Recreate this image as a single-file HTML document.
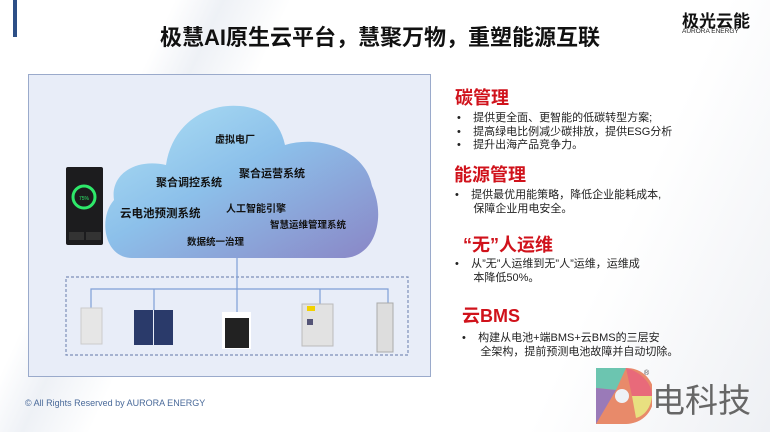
<!DOCTYPE html>
<html><head><meta charset="utf-8"><style>
*{margin:0;padding:0;box-sizing:border-box}
body{width:770px;height:432px;overflow:hidden;background:#fff;position:relative;font-family:"Liberation Sans","Noto Sans CJK SC",sans-serif}
.a{position:absolute;white-space:nowrap}
.h{color:#d0121b;font-weight:bold;font-size:18px}
.t{font-size:11px;color:#222;line-height:13.5px}
.c{font-size:11px;font-weight:bold;color:#111}
</style></head><body>
<div class="a" style="left:0;top:0;width:770px;height:432px;background:linear-gradient(115deg,#fff 18%,#eef1f6 23%,#fff 30%,#fff 75%,#eef0f4 100%)"></div>
<div class="a" style="left:13px;top:0;width:4px;height:37px;background:#2d4f86"></div>
<div class="a" style="left:0;top:20px;width:770px;text-align:center;font-size:22px;font-weight:bold;color:#111;padding-right:10px">极慧AI原生云平台，慧聚万物，重塑能源互联</div>
<div class="a" style="left:682px;top:7px;font-size:17px;font-weight:bold;color:#111">极光云能</div>
<div class="a" style="left:682px;top:28px;font-size:6.5px;color:#222">AURORA ENERGY</div>

<div class="a" style="left:28px;top:74px;width:403px;height:303px;background:#e8edf8;border:1.5px solid #9aaacb"></div>
<svg class="a" style="left:0;top:0" width="770" height="432">
<defs><linearGradient id="g" x1="0" y1="0" x2="1" y2="1"><stop offset="0" stop-color="#b0e2f5"/><stop offset="0.45" stop-color="#8cc0ea"/><stop offset="1" stop-color="#8a86c6"/></linearGradient></defs>
<path d="M132,258 C104,258 98,218 114,200 C110,174 136,158 166,165 C172,124 206,103 240,106 C265,108 280,122 285,145 C322,134 366,152 372,186 C386,216 376,256 345,258 Z" fill="url(#g)"/>
<rect x="66" y="277" width="342" height="78" fill="none" stroke="#7d90b8" stroke-width="1.2" stroke-dasharray="3,2"/>
<g stroke="#7f9fd6" stroke-width="1.2" fill="none">
<path d="M237,258 V312 M91,308 V289 H388 V303 M154,289 V310 M320,289 V304"/></g>
<rect x="81" y="308" width="21" height="36" fill="#e6e6e6" stroke="#ccc"/>
<rect x="134" y="310" width="19" height="35" fill="#2a3a6a"/><rect x="154" y="310" width="19" height="35" fill="#2a3a6a"/>
<rect x="222" y="312" width="29" height="37" fill="#fff"/><rect x="225" y="318" width="24" height="30" fill="#222"/>
<rect x="302" y="304" width="31" height="42" fill="#e2e2e2" stroke="#bbb"/><rect x="307" y="306" width="8" height="5" fill="#f2d100"/><rect x="307" y="319" width="6" height="6" fill="#557"/>
<rect x="377" y="303" width="16" height="49" fill="#ddd" stroke="#aaa"/>
<rect x="66" y="167" width="37" height="78" rx="2" fill="#1c1c1e"/>
<circle cx="84" cy="197" r="11" fill="none" stroke="#2ee86a" stroke-width="3"/>
<text x="79" y="200" font-size="5" fill="#2ee86a" font-family="Liberation Sans">75%</text>
<rect x="69" y="232" width="15" height="8" fill="#333"/><rect x="86" y="232" width="15" height="8" fill="#333"/>
</svg>
<div class="a c" style="left:215px;top:131px;font-size:10px">虚拟电厂</div>
<div class="a c" style="left:156px;top:174px">聚合调控系统</div>
<div class="a c" style="left:239px;top:165px">聚合运营系统</div>
<div class="a c" style="left:120px;top:205px;font-size:11.5px">云电池预测系统</div>
<div class="a c" style="left:226px;top:200px;font-size:10px">人工智能引擎</div>
<div class="a c" style="left:270px;top:217px;font-size:9.5px">智慧运维管理系统</div>
<div class="a c" style="left:187px;top:234px;font-size:9.5px">数据统一治理</div>

<div class="a h" style="left:455px;top:84px">碳管理</div>
<div class="a t" style="left:457px;top:112px">•&nbsp;&nbsp;&nbsp;&nbsp;提供更全面、更智能的低碳转型方案;<br>•&nbsp;&nbsp;&nbsp;&nbsp;提高绿电比例减少碳排放，提供ESG分析<br>•&nbsp;&nbsp;&nbsp;&nbsp;提升出海产品竞争力。</div>
<div class="a h" style="left:454px;top:161px">能源管理</div>
<div class="a t" style="left:455px;top:189px">•&nbsp;&nbsp;&nbsp;&nbsp;提供最优用能策略，降低企业能耗成本,<br>&nbsp;&nbsp;&nbsp;&nbsp;&nbsp;&nbsp;保障企业用电安全。</div>
<div class="a h" style="left:463px;top:231px">“无”人运维</div>
<div class="a t" style="left:455px;top:258px">•&nbsp;&nbsp;&nbsp;&nbsp;从”无”人运维到无”人”运维，运维成<br>&nbsp;&nbsp;&nbsp;&nbsp;&nbsp;&nbsp;本降低50%。</div>
<div class="a h" style="left:462px;top:302px">云BMS</div>
<div class="a t" style="left:462px;top:332px">•&nbsp;&nbsp;&nbsp;&nbsp;构建从电池+端BMS+云BMS的三层安<br>&nbsp;&nbsp;&nbsp;&nbsp;&nbsp;&nbsp;全架构，提前预测电池故障并自动切除。</div>

<div class="a" style="left:25px;top:398px;font-size:9px;color:#4a6a9a">© All Rights Reserved by AURORA ENERGY</div>
<svg class="a" style="left:596px;top:368px" width="56" height="58">
<path d="M0,0 H30 C52,0 60,20 58,30 C56,48 42,56 30,56 H0 Z" fill="#e88a6a"/>
<path d="M0,0 H30 L20,22 L0,20 Z" fill="#6cc5b0"/><path d="M0,20 L20,22 L0,56 Z" fill="#9a7ab8"/>
<path d="M30,0 C46,4 56,16 56,28 L36,28 Z" fill="#e86a7a"/><path d="M36,28 L56,28 C55,40 48,48 40,50 Z" fill="#e8e080"/>
<circle cx="26" cy="28" r="7" fill="#eef1f6"/>
</svg>
<div class="a" style="left:652px;top:374px;font-size:33px;color:#666">电科技</div>
<div class="a" style="left:644px;top:370px;font-size:7px;color:#444">®</div>
</body></html>
